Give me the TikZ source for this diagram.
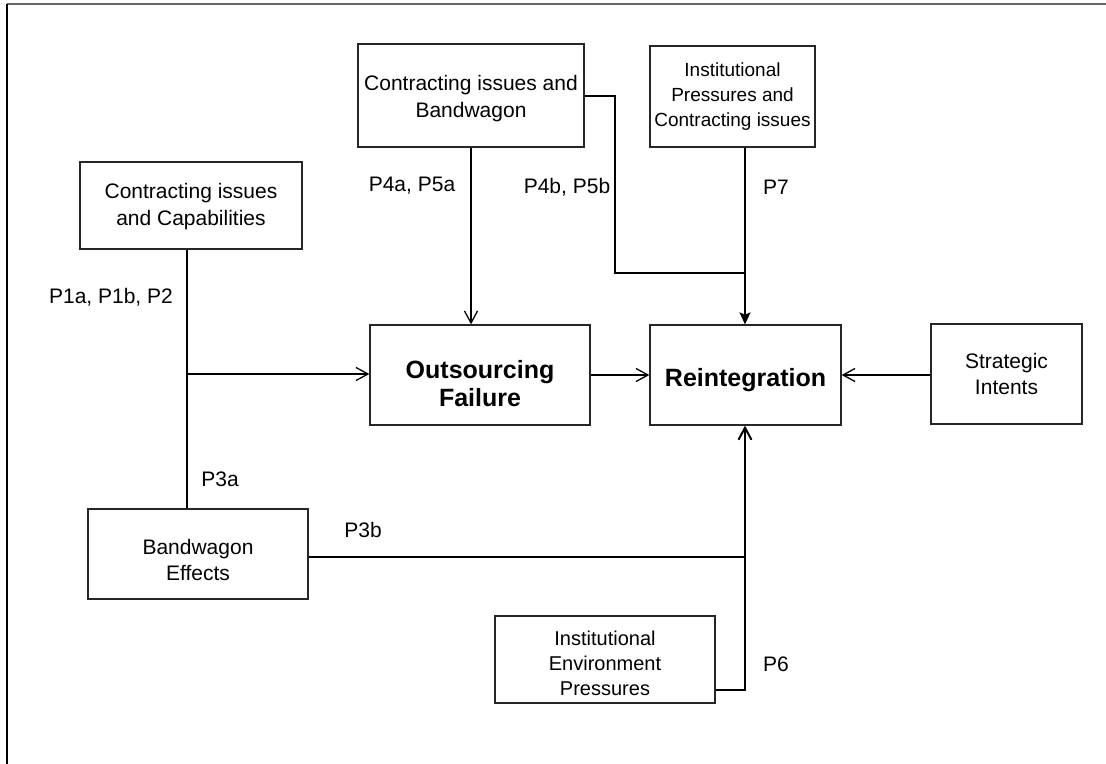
\documentclass[tikz,border=0pt]{standalone}
\usepackage{fontspec}
\setmainfont{Liberation Sans}
\usetikzlibrary{arrows.meta}
\begin{document}
\begin{tikzpicture}[x=0.5pt,y=-0.5pt,
  box/.style={draw=black!85, line width=0.65pt, inner sep=0pt},
  txt/.style={align=center, inner sep=0pt, font=\fontsize{10.5}{13.3}\selectfont},
  smalltxt/.style={txt, font=\fontsize{9.5}{12.6}\selectfont},
  bigtxt/.style={txt, font=\fontsize{12.5}{14}\selectfont\bfseries},
  lbl/.style={font=\fontsize{10.5}{13}\selectfont, inner sep=0pt},
  conn/.style={line width=0.65pt, black},
  thick conn/.style={line width=1pt, black},
  open/.style={-{Straight Barb[length=6pt,width=6.5pt]}},
  filled/.style={-{Stealth[length=6pt,width=5.5pt,inset=1.2pt]}}]
\useasboundingbox (0,0) rectangle (1106,764);
\draw[line width=1pt, black!60] (1106,4) -- (7,4);
\draw[line width=1pt, black] (7,4) -- (7,764);

% boxes
\node[box, minimum width=111pt, minimum height=43.5pt] (CC) at (191,205.5) {};
\node[txt] (CCt) at ([yshift=-0.5pt]CC.center) {Contracting issues\\and Capabilities};
\node[box, minimum width=113pt, minimum height=51.5pt] (CB) at (471,95.5) {};
\node[txt] (CBt) at ([yshift=-1.5pt]CB.center) {Contracting issues and\\Bandwagon};
\node[box, minimum width=82.5pt, minimum height=50.5pt] (IPC) at (732.5,96.5) {};
\node[smalltxt] (IPCt) at ([yshift=0pt]IPC.center) {Institutional\\Pressures and\\Contracting issues};
\node[box, minimum width=110pt, minimum height=50pt] (OF) at (480,375) {};
\node[bigtxt] (OFt) at ([yshift=-4.5pt]OF.center) {Outsourcing\\Failure};
\node[box, minimum width=95.5pt, minimum height=50pt] (RI) at (745.5,375) {};
\node[bigtxt] (RIt) at ([yshift=-2.5pt]RI.center) {Reintegration};
\node[box, minimum width=75.5pt, minimum height=50pt] (SI) at (1006.5,374) {};
\node[txt] (SIt) at (SI.center) {Strategic\\Intents};
\node[box, minimum width=110pt, minimum height=45pt] (BE) at (198,554) {};
\node[txt] (BEt) at ([yshift=-3pt]BE.center) {Bandwagon\\Effects};
\node[box, minimum width=110pt, minimum height=43.5pt] (IEP) at (605,659.5) {};
\node[smalltxt, font=\fontsize{10}{12.4}\selectfont] (IEPt) at ([yshift=-2pt]IEP.center) {Institutional\\Environment\\Pressures};

% junction coordinates
\coordinate (j1) at (187,374);
\coordinate (j2) at (615,96);
\coordinate (j3) at (745,273);
\coordinate (j4) at (745,557);
\coordinate (j5) at (745,690);

% connectors
\draw[conn, open] (CC.south -| j1) -- (j1) -- (OF.west |- j1);
\draw[thick conn] (BE.north -| j1) -- (j1);
\draw[conn, open] (CB.south) -- (CB.south |- OF.north);
\draw[conn] (CB.east |- j2) -- (j2) |- (j3);
\draw[conn, filled] (IPC.south -| j3) -- (RI.north -| j3);
\draw[conn, open] (OF.east) -- (RI.west);
\draw[conn, open] (SI.west |- RI.east) -- (RI.east);
\draw[thick conn, open] (BE.east |- j4) -- (j4) -- (RI.south -| j4);
\draw[thick conn] (IEP.east |- j5) -- (j5) -- (j4);

% labels
\node[lbl] (l1) at (111,297) {P1a, P1b, P2};
\node[lbl] (l3a) at (220,479) {P3a};
\node[lbl] (l3b) at (363,530) {P3b};
\node[lbl] (l4a) at (412,186) {P4a, P5a};
\node[lbl] (l4b) at (567,187) {P4b, P5b};
\node[lbl] (l7) at (776,187) {P7};
\node[lbl] (l6) at (776,664) {P6};
\end{tikzpicture}
\end{document}
